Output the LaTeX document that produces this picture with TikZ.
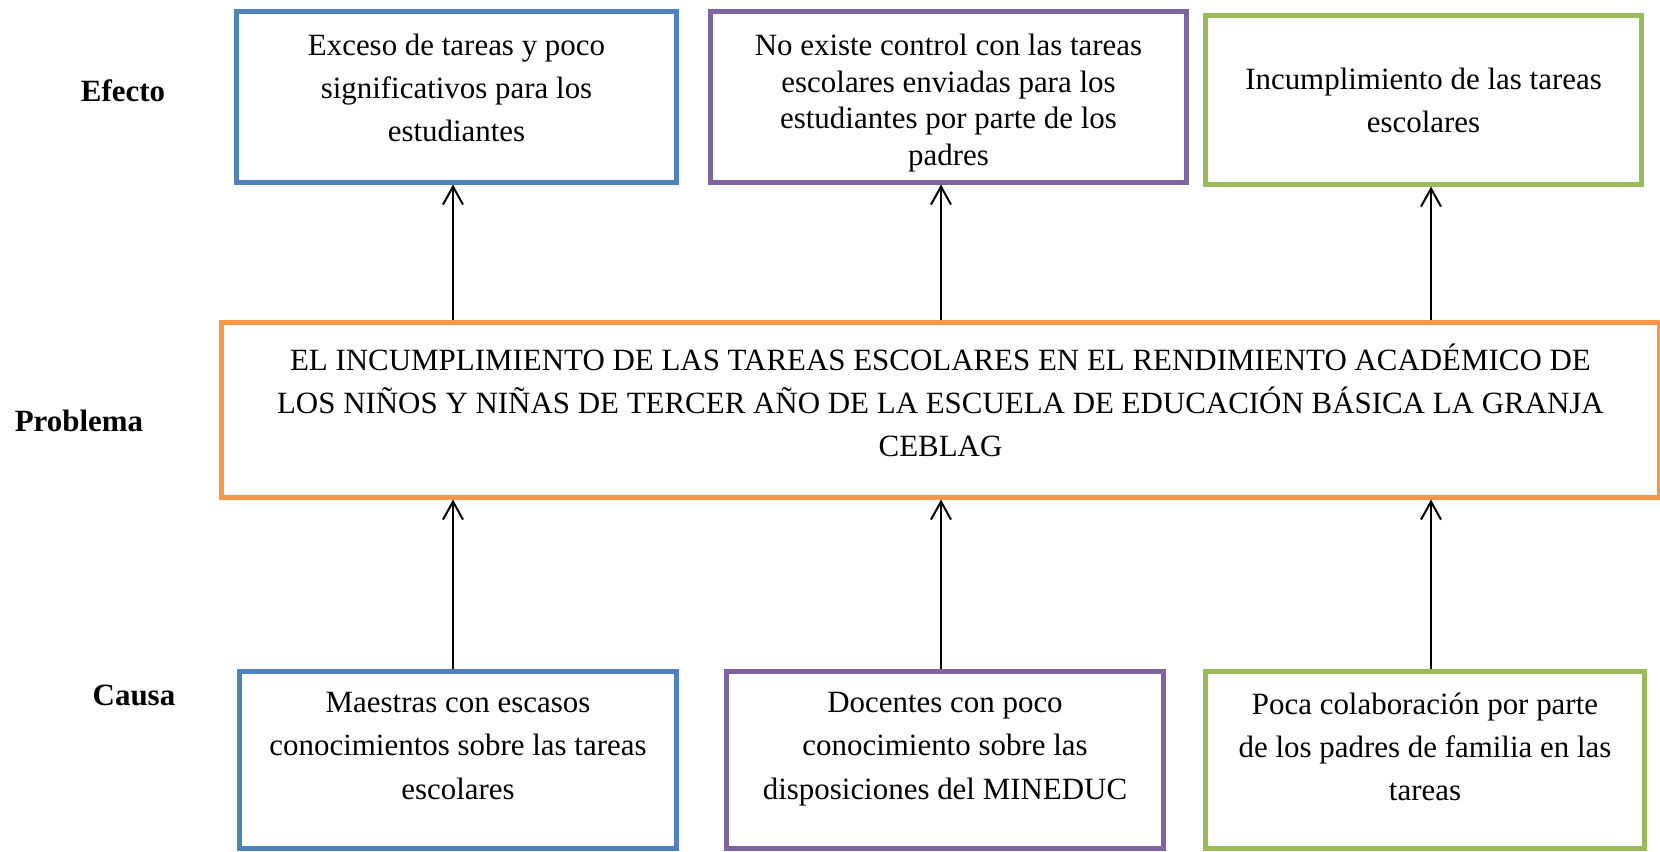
\documentclass[tikz,border=0pt]{standalone}
\usepackage{fontspec}
\setmainfont{Liberation Serif}
\usetikzlibrary{arrows.meta}
\definecolor{azul}{HTML}{4F81BD}
\definecolor{morado}{HTML}{8064A2}
\definecolor{verde}{HTML}{9BBB59}
\definecolor{naranja}{HTML}{F79646}
% width, height, top padding, text
\newcommand{\caja}[4]{\parbox[c][#2][t]{#1}{\centering\vspace*{#3}#4}}
\tikzset{
  marco/.style={draw=#1, line width=0.125cm, inner sep=0pt},
  flecha/.style={-{Straight Barb[length=0.45cm,width=0.5cm]}, line width=0.05cm},
  rotulo/.style={font=\fontsize{22}{26}\selectfont\bfseries}
}

\begin{document}
\begin{tikzpicture}[x=0.025cm, y=-0.025cm, font=\fontsize{22}{30.6}\selectfont]
        \useasboundingbox (0,0) rectangle (1660,851);

        % rotulos
        \node[rotulo] (efecto) at (123,91) {Efecto};
        \node[rotulo] (problema) at (79,421) {Problema};
        \node[rotulo] (causa) at (134,695) {Causa};

        % efectos
        \node[marco=azul] (e1) at (456.5,97)
          {\caja{10.975cm}{4.25cm}{0.55cm}{Exceso de tareas y poco\\ significativos para los\\ estudiantes}};
        \node[marco=morado] (e2) at (948.5,97)
          {\caja{11.875cm}{4.25cm}{0.55cm}{\fontsize{22}{26}\selectfont No existe control con las tareas\\ escolares enviadas para los\\ estudiantes por parte de los\\ padres}};
        \node[marco=verde] (e3) at (1423.5,100)
          {\caja{10.875cm}{4.2cm}{1.3cm}{Incumplimiento de las tareas\\ escolares}};

        % problema
        \node[marco=naranja] (p) at (940.5,410)
          {\caja{35.925cm}{4.35cm}{0.53cm}{EL INCUMPLIMIENTO DE LAS TAREAS ESCOLARES EN EL RENDIMIENTO ACAD\'EMICO DE\\ LOS NI\~NOS Y NI\~NAS DE TERCER A\~NO DE LA ESCUELA DE EDUCACI\'ON B\'ASICA LA GRANJA\\ CEBLAG}};

        % causas
        \node[marco=azul] (c1) at (458,760)
          {\caja{10.9cm}{4.425cm}{0.53cm}{Maestras con escasos\\ conocimientos sobre las tareas\\ escolares}};
        \node[marco=morado] (c2) at (945,760)
          {\caja{10.9cm}{4.425cm}{0.53cm}{Docentes con poco\\ conocimiento sobre las\\ disposiciones del MINEDUC}};
        \node[marco=verde] (c3) at (1425,760)
          {\caja{10.95cm}{4.425cm}{0.53cm}{Poca colaboraci\'on por parte\\ de los padres de familia en las\\ tareas}};

        % flechas
        \draw[flecha] ([xshift=-0.125cm]c1.north) -- ([xshift=-0.125cm]c1.north |- p.south);
        \draw[flecha] ([xshift=-0.1cm]c2.north) -- ([xshift=-0.1cm]c2.north |- p.south);
        \draw[flecha] ([xshift=0.15cm]c3.north) -- ([xshift=0.15cm]c3.north |- p.south);
        \draw[flecha] ([xshift=-0.125cm]c1.north |- p.north) -- ([xshift=-0.125cm]c1.north |- e1.south);
        \draw[flecha] ([xshift=-0.1cm]c2.north |- p.north) -- ([xshift=-0.1cm]c2.north |- e2.south);
        \draw[flecha] ([xshift=0.15cm]c3.north |- p.north) -- ([xshift=0.15cm]c3.north |- e3.south);

\end{tikzpicture}
\end{document}
